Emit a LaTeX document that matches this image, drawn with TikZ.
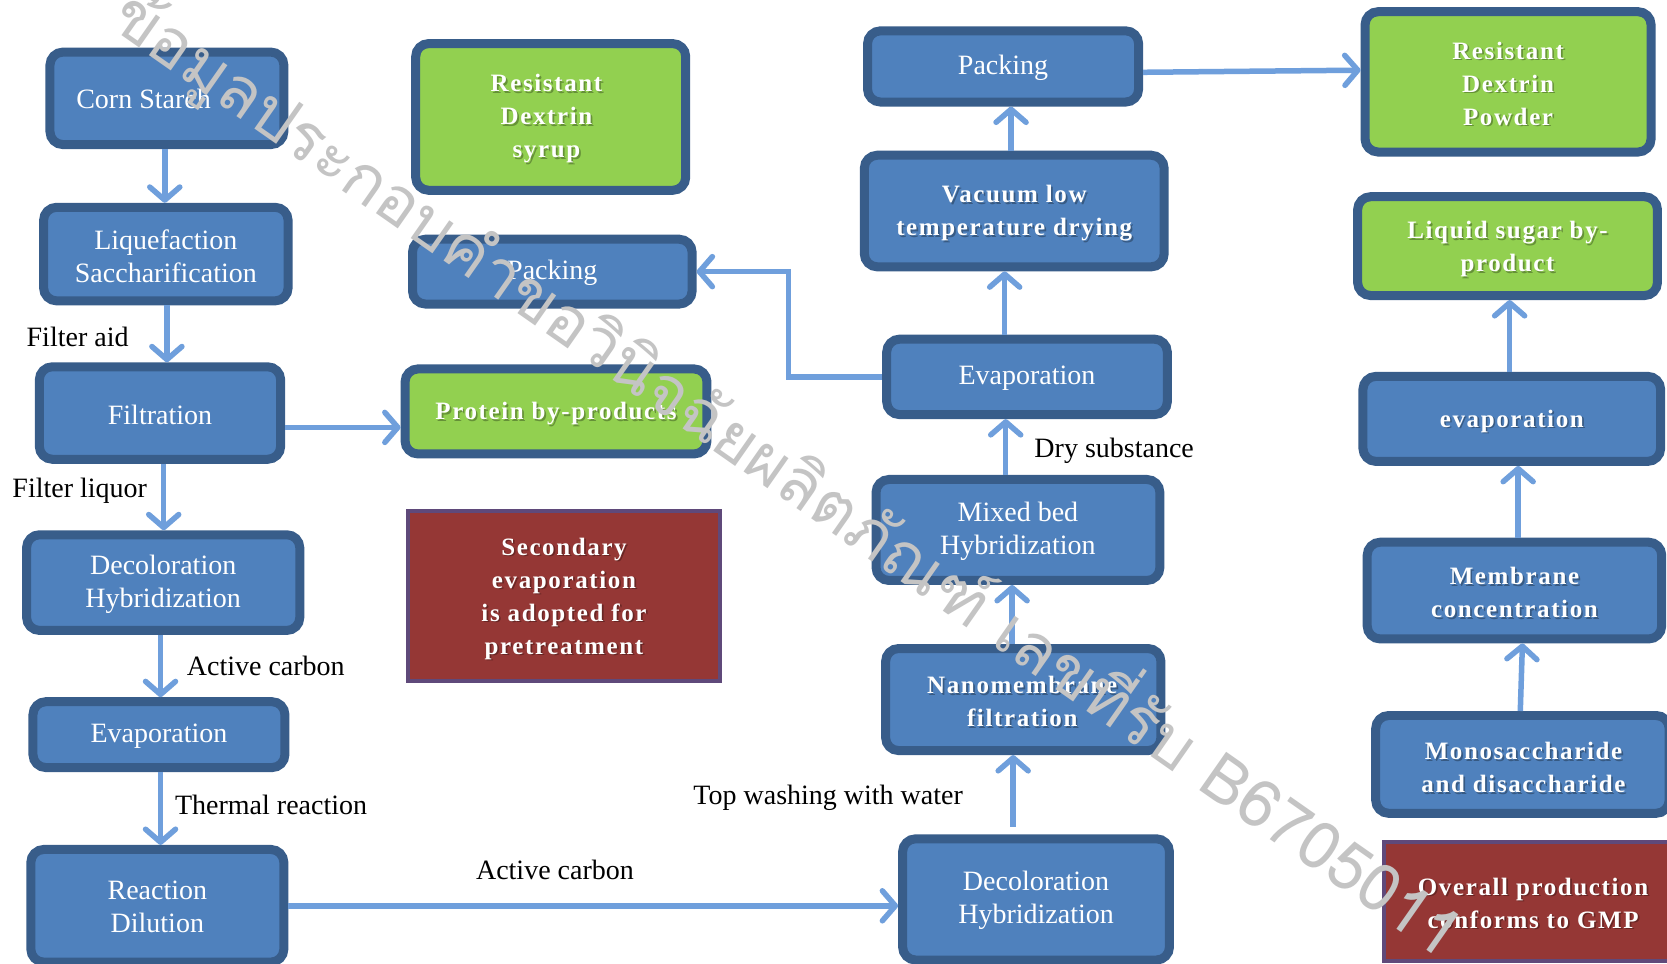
\documentclass[tikz,border=0pt]{standalone}
\usepackage{fontspec}
\setmainfont{Liberation Serif}
\newfontfamily\spfont[LetterSpace=6.5]{Liberation Serif}
\newfontfamily\thaifont[Script=Thai]{Loma}
\usetikzlibrary{fit,calc,arrows.meta}
\definecolor{boxblue}{HTML}{4F81BD}
\definecolor{boxedge}{HTML}{385D8A}
\definecolor{boxgreen}{HTML}{92D050}
\definecolor{boxred}{HTML}{953735}
\definecolor{rededge}{HTML}{5F497A}
\definecolor{arrowblue}{HTML}{6F9FDC}
\definecolor{wmgray}{HTML}{C4C4C4}
\tikzset{
  basebox/.style={inner sep=0pt, outer sep=4.5pt, line width=9pt, draw=boxedge,
    rounded corners=13pt},
  bluebox/.style={basebox, fill=boxblue},
  greenbox/.style={basebox, fill=boxgreen},
  redbox/.style={inner sep=0pt, outer sep=2pt, line width=4pt, draw=rededge, fill=boxred},
  rtxt/.style={inner sep=0pt, align=center, text=white, font=\fontsize{28}{33}\selectfont},
  btxt/.style={inner sep=0pt, align=center, text=white, font=\spfont\bfseries\fontsize{25}{33}\selectfont},
  arr/.style={draw=arrowblue, line width=5.5pt,
    -{Straight Barb[length=13pt,width=30pt,round]}},
  lbl/.style={font=\fontsize{28}{33}\selectfont, text=black, inner sep=0pt},
  wm/.style={text=wmgray, inner sep=0pt, font=\thaifont\fontsize{66}{72}\selectfont}
}
% #1 name, #2 style, #3 position, #4 text
\newcommand\plaintext[4]{\node[#2] (#1) at (#3) {#4};}
\newcommand\shadowtext[4]{%
  \node[#2, text=black, opacity=0.3, shift={(1.6,1.6)}] (#1s) at (#3) {#4};
  \node[#2] (#1) at (#3) {#4};}
\begin{document}
\begin{tikzpicture}[x=1.0632pt,y=-1.0632pt]
\fill[white] (0,0) rectangle (1568,906);
\useasboundingbox (0,0) rectangle (1568,906);

% left column
\node[bluebox, fit={(47,49) (267,136)}] (cs) {};
\node[bluebox, fit={(41,195) (271,283)}] (lq) {};
\node[bluebox, fit={(37,345) (264,432)}] (fl) {};
\node[bluebox, fit={(25,503) (282,593)}] (dc1) {};
\node[bluebox, fit={(31,660) (268,722)}] (ev1) {};
\node[bluebox, fit={(29,799) (267,905)}] (rd) {};
% middle column
\node[greenbox, fit={(391,41) (645,179)}] (rds) {};
\node[bluebox, fit={(388,225) (651,286)}] (pk1) {};
\node[greenbox, fit={(381,347) (665,427)}] (pr) {};
\node[redbox, fit={(384,481) (677,641)}] (sec) {};
% mid-right column
\node[bluebox, fit={(816,29) (1071,96)}] (pk2) {};
\node[bluebox, fit={(813,146) (1095,251)}] (vac) {};
\node[bluebox, fit={(834,319) (1098,390)}] (ev2) {};
\node[bluebox, fit={(824,451) (1091,546)}] (mb) {};
\node[bluebox, fit={(833,610) (1092,706)}] (nf) {};
\node[bluebox, fit={(849,789) (1100,903)}] (dc2) {};
% right column
\node[greenbox, fit={(1284,11) (1553,143)}] (rdp) {};
\node[greenbox, fit={(1277,185) (1559,278)}] (ls) {};
\node[bluebox, fit={(1282,354) (1562,434)}] (ev3) {};
\node[bluebox, fit={(1286,510) (1563,601)}] (mc) {};
\node[bluebox, fit={(1294,673) (1570,765)}] (mo) {};
\node[redbox, fit={(1302,792) (1580,904)}] (gmp) {};

% box texts
\plaintext{csT}{rtxt}{$(cs.center)+(-22,1)$}{Corn Starch}
\plaintext{lqT}{rtxt}{$(lq.center)+(0,2)$}{Liquefaction\\Saccharification}
\plaintext{flT}{rtxt}{$(fl.center)+(0,1.5)$}{Filtration}
\plaintext{dc1T}{rtxt}{$(dc1.center)+(0,2)$}{Decoloration\\Hybridization}
\plaintext{ev1T}{rtxt}{$(ev1.center)+(0,1.5)$}{Evaporation}
\plaintext{rdT}{rtxt}{$(rd.center)+(0,1)$}{Reaction\\Dilution}
\shadowtext{rdsT}{btxt}{$(rds.center)+(-4,1.5)$}{Resistant\\Dextrin\\syrup}
\plaintext{pk1T}{rtxt}{$(pk1.center)+(0,1.5)$}{Packing}
\shadowtext{prT}{btxt}{$(pr.center)+(0,2)$}{Protein by-products}
\shadowtext{secT}{btxt}{$(sec.center)+(0,2)$}{Secondary\\evaporation\\is adopted for\\pretreatment}
\plaintext{pk2T}{rtxt}{$(pk2.center)+(0,1.5)$}{Packing}
\shadowtext{vacT}{btxt}{$(vac.center)+(0,2)$}{Vacuum low\\temperature drying}
\plaintext{ev2T}{rtxt}{$(ev2.center)+(0,1.5)$}{Evaporation}
\plaintext{mbT}{rtxt}{$(mb.center)+(0,1)$}{Mixed bed\\Hybridization}
\shadowtext{nfT}{btxt}{$(nf.center)+(-1,2)$}{Nanomembrane\\filtration}
\plaintext{dc2T}{rtxt}{$(dc2.center)+(0,1)$}{Decoloration\\Hybridization}
\shadowtext{rdpT}{btxt}{$(rdp.center)+(0,1.5)$}{Resistant\\Dextrin\\Powder}
\shadowtext{lsT}{btxt}{$(ls.center)+(0,3)$}{Liquid sugar by-\\product}
\shadowtext{ev3T}{btxt}{$(ev3.center)+(0,2)$}{evaporation}
\shadowtext{mcT}{btxt}{$(mc.center)+(0,2)$}{Membrane\\concentration}
\shadowtext{moT}{btxt}{$(mo.center)+(1,3)$}{Monosaccharide\\and disaccharide}
\shadowtext{gmpT}{btxt}{$(gmp.center)+(1,1.5)$}{Overall production\\conforms to GMP}

% connectors
\draw[arr] ($(cs.south)+(-2,0)$) -- ($(lq.north)+(-1,0)$);
\draw[arr] ($(lq.south)+(1,0)$) -- ($(fl.north)+(6.5,0)$);
\draw[arr] ($(fl.south)+(3.5,0)$) -- ($(dc1.north)+(0.5,0)$);
\draw[arr] ($(dc1.south)+(-2.5,0)$) -- ($(ev1.north)+(1.5,0)$);
\draw[arr] ($(ev1.south)+(1.5,0)$) -- ($(rd.north)+(3,0)$);
\draw[arr] ($(fl.east)+(0,13.5)$) -- ($(pr.west)+(0,15)$);
\draw[arr] (rd.east) -- (rd.east -| dc2.west);
\draw[arr] (ev2.west) -- ++(-88,0) |- (pk1.east);
\draw[arr] ($(ev2.north)+(-21,0)$) -- ($(vac.south)+(-9,0)$);
\draw[arr] ($(vac.north)+(-3,0)$) -- ($(pk2.south)+(7.5,0)$);
\draw[arr] ($(pk2.east)+(0,5.5)$) -- ($(rdp.west)+(0,-11)$);
\draw[arr] ($(mb.north)+(-11.5,0)$) -- ($(ev2.south)+(-20,0)$);
\draw[arr] ($(nf.north)+(-10.5,0)$) -- ($(mb.south)+(-5.5,0)$);
\draw[arr] ($(dc2.north)+(-21.5,-7)$) -- ($(nf.south)+(-9.5,0)$);
\draw[arr] ($(ev3.north)+(-2,0)$) -- ($(ls.south)+(2,0)$);
\draw[arr] ($(mc.north)+(3.5,0)$) -- ($(ev3.south)+(6,0)$);
\draw[arr] ($(mo.north)+(-2,0)$) -- ($(mc.south)+(7.5,0)$);

% labels
\node[lbl] (l1) at (73,317) {Filter aid};
\node[lbl] (l2) at (75,462) {Filter liquor};
\node[lbl] (l3) at (250,626) {Active carbon};
\node[lbl] (l4) at (255,757) {Thermal reaction};
\node[lbl] (l5) at (522,818) {Active carbon};
\node[lbl] (l6) at (1048,424) {Dry substance};
\node[lbl] (l7) at (779,750) {Top washing with water};

% watermark
\node[wm, rotate=-35] (wmk) at (742,444) {ข้อมูลประกอบคำขอวินิจฉัยผลิตภัณฑ์ เลขที่รับ B6705011};
\end{tikzpicture}
\end{document}
